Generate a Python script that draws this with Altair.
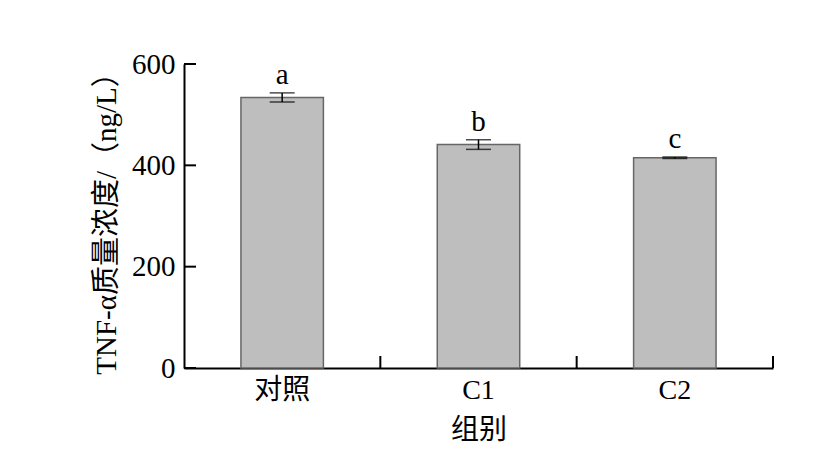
import altair as alt
import pandas as pd

groups = ["对照", "C1", "C2"]
means = [534, 441, 415]
errors = [9, 9.5, 1.5]
letters = ["a", "b", "c"]
y_ticks = [0, 200, 400, 600]

FONT = "Liberation Serif, Times New Roman, Noto Sans CJK SC"
W, H = 589, 304

df = pd.DataFrame({
    "group": groups,
    "mean": means,
    "lo": [m - e for m, e in zip(means, errors)],
    "hi": [m + e for m, e in zip(means, errors)],
    "letter": letters,
})
ticks_df = pd.DataFrame({"v": y_ticks})

xscale = alt.Scale(paddingInner=0, paddingOuter=0)
yscale = alt.Scale(domain=[0, 600])

x_enc = alt.X(
    "group:N", sort=groups, scale=xscale,
    axis=alt.Axis(title="组别", labelAngle=0, ticks=False, tickSize=0,
                  labelPadding=8, titlePadding=12, domainColor="black",
                  domainWidth=2, labelFont=FONT, titleFont=FONT,
                  labelFontSize=28, titleFontSize=28, labelColor="black",
                  titleColor="black", titleFontWeight="normal", grid=False),
)
y_enc = alt.Y(
    "mean:Q", scale=yscale,
    axis=alt.Axis(title="TNF-α质量浓度/（ng/L）", values=y_ticks, ticks=False,
                  tickSize=0, labelPadding=9, titlePadding=10,
                  domainColor="black", domainWidth=2, labelFont=FONT,
                  titleFont=FONT, labelFontSize=29, titleFontSize=29,
                  labelColor="black", titleColor="black",
                  titleFontWeight="normal", grid=False),
)

bars = alt.Chart(df).mark_bar(
    width=alt.RelativeBandSize(0.42), color="#bebebe", stroke="#666666",
    strokeWidth=1.5,
).encode(x=x_enc, y=y_enc)

base = alt.Chart(df).encode(x=alt.X("group:N", sort=groups, scale=xscale))

err_rule = base.mark_rule(color="black", strokeWidth=1.5).encode(
    y=alt.Y("lo:Q", scale=yscale), y2="hi:Q")
err_lo = base.mark_tick(color="black", size=25, thickness=1.5,
                        orient="horizontal").encode(y=alt.Y("lo:Q", scale=yscale))
err_hi = base.mark_tick(color="black", size=25, thickness=1.5,
                        orient="horizontal").encode(y=alt.Y("hi:Q", scale=yscale))

labels = base.mark_text(font=FONT, fontSize=29, color="black",
                        baseline="alphabetic", dy=-9).encode(
    y=alt.Y("hi:Q", scale=yscale), text="letter:N")

ytick_marks = alt.Chart(ticks_df).mark_rule(color="black", strokeWidth=2).encode(
    y=alt.Y("v:Q", scale=yscale), x=alt.value(0), x2=alt.value(12))

xtick_marks = alt.Chart(df).mark_rule(color="black", strokeWidth=2).encode(
    x=alt.X("group:N", sort=groups, scale=xscale, bandPosition=1),
    y=alt.value(H), y2=alt.value(H - 12))

chart = alt.layer(bars, err_rule, err_lo, err_hi, labels, ytick_marks,
                  xtick_marks).properties(
    width=W, height=H,
    autosize=alt.AutoSizeParams(type="none"),
    padding={"left": 176, "top": 56, "right": 36, "bottom": 84},
    background="white",
).configure_view(strokeWidth=0, stroke=None)

chart.save("out.html", embed_options={"renderer": "svg", "actions": False})
